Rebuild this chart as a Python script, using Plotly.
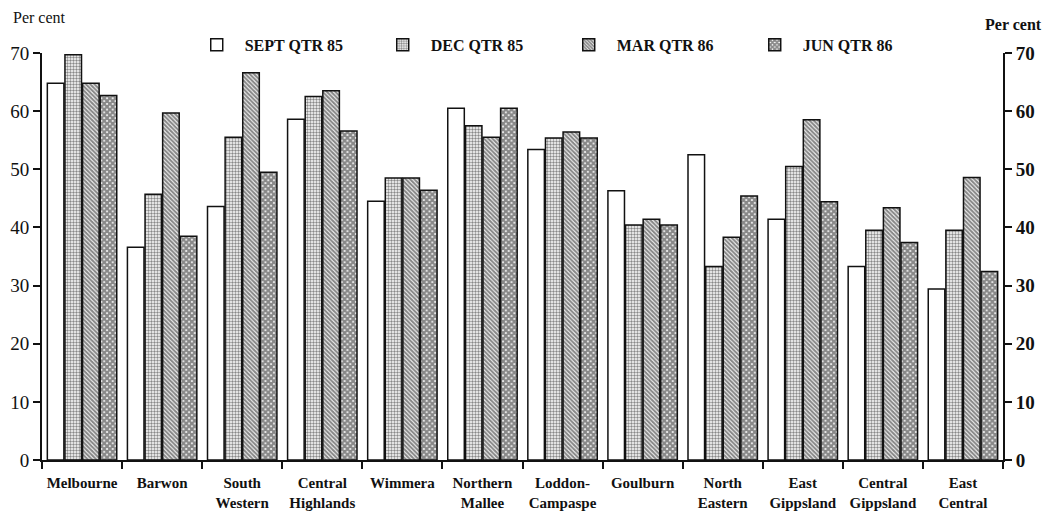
import plotly.graph_objects as go

regions = ['Melbourne', 'Barwon', 'South<br>Western', 'Central<br>Highlands', 'Wimmera',
           'Northern<br>Mallee', 'Loddon-<br>Campaspe', 'Goulburn', 'North<br>Eastern',
           'East<br>Gippsland', 'Central<br>Gippsland', 'East<br>Central']

sept_85 = [64.8, 36.6, 43.6, 58.6, 44.5, 60.5, 53.4, 46.3, 52.5, 41.4, 33.3, 29.4]
dec_85 = [69.7, 45.7, 55.5, 62.5, 48.5, 57.5, 55.4, 40.4, 33.3, 50.5, 39.5, 39.5]
mar_86 = [64.8, 59.7, 66.6, 63.5, 48.5, 55.5, 56.4, 41.4, 38.3, 58.5, 43.4, 48.6]
jun_86 = [62.7, 38.5, 49.5, 56.6, 46.4, 60.5, 55.4, 40.4, 45.4, 44.4, 37.4, 32.4]

FONT = 'Liberation Serif, DejaVu Serif, serif'
INK = '#111111'

series = [
    ('SEPT QTR 85', sept_85, dict(color='white')),
    ('DEC QTR 85', dec_85, dict(color='white',
                                pattern=dict(shape='.', size=3, solidity=0.5,
                                             fgcolor=INK, bgcolor='white'))),
    ('MAR QTR 86', mar_86, dict(color='white',
                                pattern=dict(shape='\\', size=3, solidity=0.7,
                                             fgcolor=INK, bgcolor='white'))),
    ('JUN QTR 86', jun_86, dict(color='white',
                                pattern=dict(shape='x', size=4, solidity=0.8,
                                             fgcolor=INK, bgcolor='white'))),
]

fig = go.Figure()

for name, vals, marker in series:
    marker['line'] = dict(color=INK, width=1.5)
    # en space pushes the legend text a little further from its swatch
    fig.add_trace(go.Bar(x=regions, y=vals, name='\u2002' + name, marker=marker))

# invisible trace so the right-hand axis gets drawn
fig.add_trace(go.Scatter(x=[regions[0]], y=[0], yaxis='y2', showlegend=False,
                         mode='markers', marker=dict(opacity=0), hoverinfo='skip'))

fig.update_layout(
    width=1045,
    height=513,
    autosize=False,
    plot_bgcolor='white',
    paper_bgcolor='white',
    barmode='group',
    bargap=0.12,
    bargroupgap=0.06,
    margin=dict(l=42, r=42, t=53, b=53, autoexpand=False),
    font=dict(family=FONT, color=INK),
    legend=dict(
        orientation='h',
        x=0.161, y=1.02,
        xanchor='left', yanchor='middle',
        entrywidth=141, entrywidthmode='pixels',
        font=dict(family=FONT, size=16, color=INK, weight='bold'),
        traceorder='normal',
    ),
    xaxis=dict(
        range=[-0.5, 11.5], tickangle=0, automargin=False, ticklabelstandoff=8,
        showline=True, linecolor=INK, linewidth=2,
        ticks='outside', tickson='boundaries', ticklen=7, tickcolor=INK, tickwidth=2,
        tickfont=dict(family=FONT, size=15, color=INK, weight='bold'),
        showgrid=False,
    ),
    yaxis=dict(
        range=[0, 70], dtick=10, automargin=False,
        showline=True, linecolor=INK, linewidth=2,
        ticks='outside', ticklen=7, tickcolor=INK, tickwidth=2,
        tickfont=dict(family=FONT, size=19, color=INK),
        showgrid=False, zeroline=False,
    ),
    yaxis2=dict(
        range=[0, 70], dtick=10, overlaying='y', side='right', automargin=False,
        showline=True, linecolor=INK, linewidth=2,
        ticks='outside', ticklen=7, tickcolor=INK, tickwidth=2,
        tickfont=dict(family=FONT, size=19, color=INK, weight='bold'),
        showgrid=False, zeroline=False,
    ),
    annotations=[
        dict(text='Per cent', xref='paper', yref='paper', x=-0.032, y=1.086,
             xanchor='left', yanchor='middle', showarrow=False,
             font=dict(family=FONT, size=16, color=INK)),
        dict(text='Per cent', xref='paper', yref='paper', x=1.043, y=1.069,
             xanchor='right', yanchor='middle', showarrow=False,
             font=dict(family=FONT, size=16, color=INK, weight='bold')),
    ],
)

fig.write_html("out.html", config={'displayModeBar': False},
               post_script="document.body.style.margin='0';")
